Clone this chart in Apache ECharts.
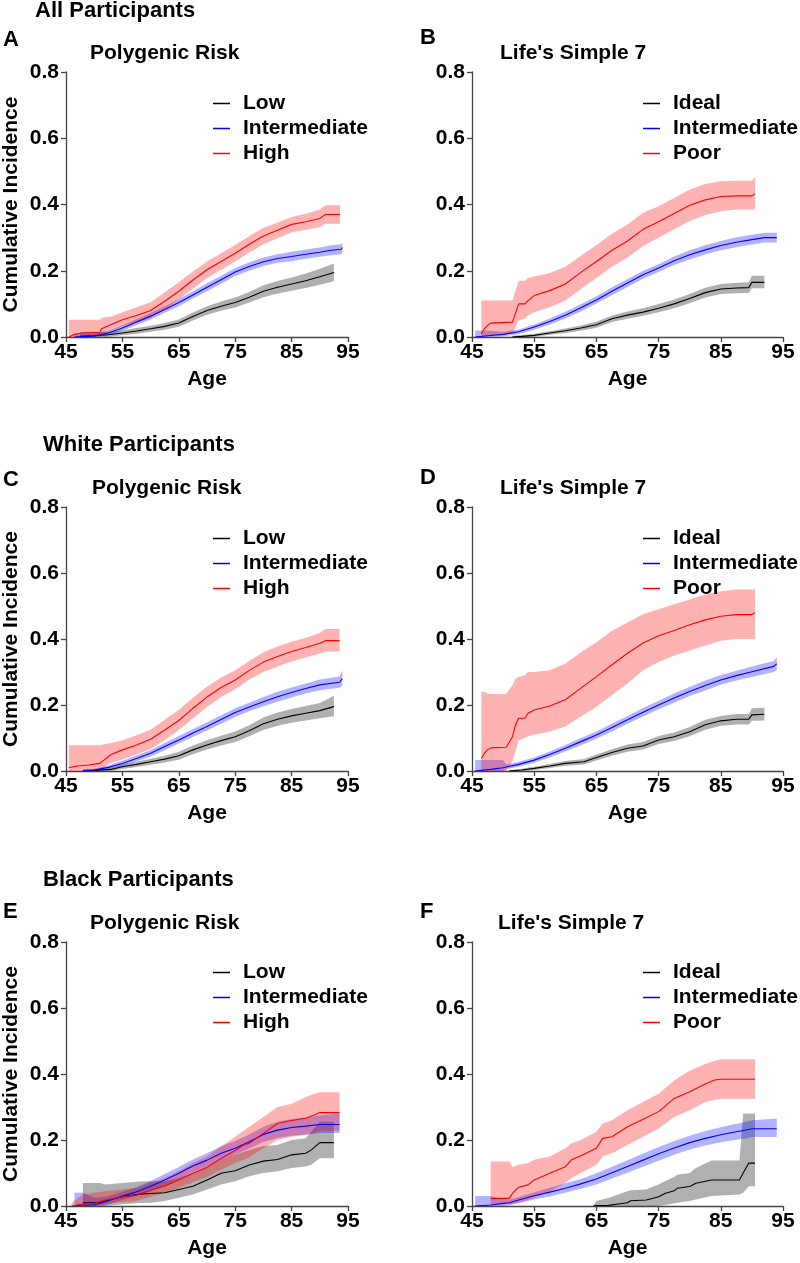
<!DOCTYPE html>
<html><head><meta charset="utf-8">
<script src="https://cdn.jsdelivr.net/npm/echarts@6/dist/echarts.min.js"></script>
<style>html,body{margin:0;padding:0;background:#fff}#c{width:800px;height:1263px}</style>
</head><body><div id="c"></div>
<script>
// ---------- axis ticks ----------
const xTicks = [45, 55, 65, 75, 85, 95];
const yTicks = [0.0, 0.2, 0.4, 0.6, 0.8];
const prsNames = ['Low', 'Intermediate', 'High'];
const ls7Names = ['Ideal', 'Intermediate', 'Poor'];

// ---------- Panel A: All participants, polygenic risk ----------
const A_low_age = [47.5,50,52.5,55,57.5,60,62.5,65,67.5,70,72.5,75,77.5,80,82.5,85,87.5,90,92.5];
const A_low_est = [0.002,0.004,0.007,0.012,0.018,0.025,0.032,0.042,0.062,0.08,0.093,0.104,0.12,0.138,0.15,0.16,0.17,0.182,0.195];
const A_low_lo  = [0,0,0.001,0.005,0.01,0.016,0.022,0.031,0.05,0.067,0.079,0.089,0.104,0.12,0.131,0.14,0.148,0.158,0.168];
const A_low_hi  = [0.015,0.015,0.016,0.02,0.027,0.034,0.042,0.053,0.074,0.093,0.107,0.119,0.136,0.156,0.169,0.18,0.192,0.206,0.222];

const A_int_age = [46.5,48,50,52.5,55,57.5,60,62.5,65,67.5,70,72.5,75,77.5,80,82.5,85,87.5,90,92,93.8,94];
const A_int_est = [0,0.001,0.003,0.012,0.027,0.045,0.063,0.083,0.104,0.127,0.15,0.173,0.196,0.213,0.227,0.237,0.243,0.25,0.256,0.262,0.265,0.27];
const A_int_lo  = [0,0,0,0.005,0.019,0.036,0.053,0.073,0.093,0.116,0.138,0.161,0.184,0.2,0.214,0.224,0.229,0.236,0.242,0.247,0.25,0.255];
const A_int_hi  = [0.008,0.008,0.01,0.019,0.035,0.054,0.073,0.093,0.115,0.138,0.162,0.185,0.208,0.226,0.24,0.25,0.257,0.264,0.27,0.277,0.28,0.285];

const A_high_age = [45.5,46.5,48,51,51.3,53,55,57.5,60,62.5,65,67.5,70,72.5,75,77.5,80,82.5,85,87.5,90,91,93.6];
const A_high_est = [0,0.008,0.012,0.014,0.025,0.038,0.052,0.065,0.08,0.108,0.138,0.172,0.203,0.228,0.253,0.28,0.305,0.322,0.34,0.348,0.358,0.37,0.37];
const A_high_lo  = [0,0,0,0.002,0.01,0.02,0.032,0.043,0.058,0.083,0.113,0.146,0.178,0.203,0.228,0.255,0.28,0.298,0.316,0.324,0.332,0.342,0.342];
const A_high_hi  = [0.052,0.052,0.052,0.052,0.058,0.062,0.075,0.09,0.105,0.135,0.165,0.198,0.228,0.253,0.278,0.305,0.33,0.345,0.362,0.372,0.385,0.398,0.398];

// ---------- Panel B: All participants, Life's Simple 7 ----------
const B_ideal_age = [51.5,53,55,57.5,60,62.5,65,67.5,70,72.5,75,77.5,80,82.5,85,87.5,89.5,90,92];
const B_ideal_est = [0,0.002,0.005,0.012,0.019,0.027,0.037,0.055,0.066,0.075,0.087,0.1,0.116,0.134,0.145,0.148,0.149,0.165,0.165];
const B_ideal_lo  = [0,0,0.001,0.007,0.012,0.019,0.028,0.045,0.055,0.064,0.075,0.087,0.102,0.119,0.13,0.132,0.133,0.147,0.147];
const B_ideal_hi  = [0.004,0.006,0.01,0.017,0.026,0.035,0.046,0.065,0.077,0.087,0.1,0.113,0.13,0.149,0.16,0.164,0.165,0.185,0.185];

const B_int_age = [45.5,47.5,50,52.5,55,57.5,60,62.5,65,67.5,70,72.5,75,77.5,80,82.5,85,87.5,90,92,94];
const B_int_est = [0,0.004,0.008,0.016,0.03,0.047,0.066,0.088,0.112,0.138,0.163,0.188,0.208,0.23,0.248,0.263,0.276,0.286,0.294,0.3,0.3];
const B_int_lo  = [0,0,0.002,0.009,0.022,0.038,0.056,0.077,0.101,0.126,0.151,0.176,0.196,0.217,0.234,0.249,0.262,0.271,0.279,0.285,0.285];
const B_int_hi  = [0.02,0.02,0.016,0.023,0.038,0.056,0.076,0.099,0.123,0.15,0.175,0.2,0.22,0.243,0.262,0.277,0.29,0.301,0.309,0.315,0.315];

const B_poor_age = [46.5,47,47.5,48,51.5,52.5,53.5,54,55,57.5,60,62.5,65,67.5,70,72.5,75,77.5,80,82.5,85,87.5,90,90.5];
const B_poor_est = [0.01,0.025,0.035,0.042,0.045,0.1,0.1,0.11,0.125,0.14,0.16,0.195,0.228,0.262,0.29,0.325,0.348,0.373,0.398,0.414,0.424,0.426,0.426,0.432];
const B_poor_lo  = [0,0,0.002,0.005,0.01,0.05,0.055,0.065,0.075,0.09,0.11,0.145,0.178,0.212,0.24,0.275,0.3,0.325,0.35,0.368,0.38,0.385,0.385,0.385];
const B_poor_hi  = [0.11,0.11,0.11,0.11,0.11,0.17,0.17,0.178,0.183,0.193,0.212,0.245,0.278,0.312,0.34,0.375,0.395,0.42,0.445,0.462,0.47,0.472,0.472,0.482];

// ---------- Panel C: White participants, polygenic risk ----------
const C_low_age = [48,50,53,55,57.5,60,62.5,65,67.5,70,72.5,75,77.5,80,82.5,85,87.5,90,92.5];
const C_low_est = [0.001,0.002,0.005,0.013,0.02,0.028,0.036,0.046,0.064,0.079,0.092,0.104,0.122,0.143,0.157,0.167,0.175,0.183,0.195];
const C_low_lo  = [0,0,0.001,0.006,0.012,0.019,0.026,0.034,0.051,0.065,0.077,0.088,0.105,0.124,0.137,0.146,0.153,0.16,0.166];
const C_low_hi  = [0.004,0.005,0.01,0.02,0.028,0.037,0.046,0.058,0.077,0.093,0.107,0.12,0.139,0.162,0.177,0.188,0.197,0.206,0.228];

const C_int_age = [48,50,52.5,55,57.5,60,62.5,65,67.5,70,72.5,75,77.5,80,82.5,85,87.5,90,93.5,94];
const C_int_est = [0.001,0.003,0.011,0.023,0.038,0.054,0.074,0.094,0.115,0.135,0.156,0.177,0.194,0.21,0.225,0.238,0.25,0.261,0.269,0.28];
const C_int_lo  = [0,0,0.005,0.015,0.029,0.044,0.063,0.083,0.103,0.123,0.143,0.164,0.181,0.196,0.21,0.223,0.235,0.245,0.252,0.258];
const C_int_hi  = [0.004,0.007,0.017,0.031,0.047,0.064,0.085,0.106,0.127,0.148,0.169,0.19,0.207,0.224,0.24,0.253,0.265,0.277,0.286,0.305];

const C_high_age = [45.5,47,49,51,53,55,57.5,60,62.5,65,67.5,70,72.5,75,77.5,80,82.5,85,87.5,90,91,93.5];
const C_high_est = [0.01,0.015,0.018,0.023,0.05,0.064,0.079,0.096,0.124,0.153,0.19,0.224,0.253,0.276,0.305,0.33,0.347,0.362,0.374,0.387,0.395,0.395];
const C_high_lo  = [0,0,0,0.003,0.025,0.035,0.05,0.067,0.094,0.124,0.16,0.194,0.224,0.248,0.277,0.3,0.317,0.332,0.344,0.356,0.362,0.362];
const C_high_hi  = [0.078,0.078,0.078,0.078,0.085,0.093,0.108,0.125,0.155,0.185,0.222,0.255,0.283,0.305,0.333,0.36,0.377,0.392,0.404,0.418,0.43,0.43];

// ---------- Panel D: White participants, Life's Simple 7 ----------
const D_ideal_age = [51,53,55,57.5,60,63,65,67.5,70,72.5,75,77.5,80,82.5,85,87.5,89.5,90,92];
const D_ideal_est = [0,0.003,0.008,0.015,0.023,0.028,0.041,0.056,0.069,0.076,0.094,0.104,0.119,0.14,0.152,0.157,0.157,0.17,0.172];
const D_ideal_lo  = [0,0,0.003,0.009,0.016,0.02,0.032,0.046,0.058,0.065,0.082,0.091,0.105,0.125,0.137,0.141,0.141,0.152,0.153];
const D_ideal_hi  = [0.003,0.007,0.013,0.021,0.03,0.036,0.05,0.066,0.08,0.088,0.106,0.117,0.133,0.155,0.167,0.173,0.173,0.19,0.192];

const D_int_age = [45.5,48,50,50.5,52.5,55,57.5,60,62.5,65,67.5,70,72.5,75,77.5,80,82.5,85,87.5,90,93.5,94];
const D_int_est = [0,0.005,0.01,0.012,0.02,0.033,0.05,0.069,0.089,0.109,0.132,0.155,0.178,0.2,0.221,0.241,0.259,0.276,0.289,0.301,0.317,0.325];
const D_int_lo  = [0,0,0,0.006,0.013,0.025,0.041,0.059,0.078,0.098,0.12,0.143,0.165,0.187,0.207,0.227,0.244,0.261,0.274,0.285,0.3,0.305];
const D_int_hi  = [0.033,0.033,0.033,0.02,0.028,0.041,0.059,0.079,0.1,0.12,0.144,0.167,0.191,0.213,0.235,0.255,0.274,0.291,0.304,0.317,0.333,0.345];

const D_poor_age = [46.5,47,47.5,48,50.5,51.5,52,52.5,53.5,54,55,57.5,60,62.5,65,67.5,70,72.5,75,77.5,80,82.5,85,87.5,90,90.5];
const D_poor_est = [0.038,0.054,0.064,0.07,0.072,0.104,0.14,0.16,0.16,0.175,0.185,0.197,0.216,0.251,0.286,0.322,0.357,0.388,0.41,0.426,0.443,0.458,0.469,0.474,0.474,0.48];
const D_poor_lo  = [0,0,0,0,0,0.03,0.06,0.094,0.1,0.105,0.11,0.12,0.135,0.165,0.195,0.23,0.265,0.305,0.33,0.35,0.365,0.38,0.395,0.4,0.4,0.4];
const D_poor_hi  = [0.24,0.24,0.235,0.233,0.233,0.26,0.28,0.285,0.29,0.3,0.3,0.305,0.325,0.36,0.39,0.425,0.45,0.475,0.49,0.505,0.52,0.535,0.545,0.55,0.55,0.55];

// ---------- Panel E: Black participants, polygenic risk ----------
const E_low_age = [48,51,52,55,58,60,62.5,65,67.5,70,72.5,75,77.5,80,82.5,85,87.5,88.5,90,92.5];
const E_low_est = [0.01,0.01,0.016,0.028,0.036,0.038,0.04,0.05,0.06,0.079,0.099,0.107,0.124,0.136,0.141,0.155,0.16,0.17,0.192,0.192];
const E_low_lo  = [0,0,0,0.005,0.009,0.01,0.015,0.025,0.035,0.05,0.065,0.075,0.09,0.1,0.105,0.115,0.12,0.125,0.145,0.145];
const E_low_hi  = [0.07,0.07,0.065,0.07,0.074,0.075,0.075,0.085,0.1,0.12,0.14,0.155,0.17,0.182,0.185,0.2,0.205,0.225,0.255,0.255];

const E_int_age = [46.5,48,50,52,55,57.5,60,62.5,65,67.5,70,72.5,75,77.5,80,82.5,85,87.5,90,93.5];
const E_int_est = [0,0.003,0.004,0.013,0.03,0.043,0.06,0.079,0.099,0.121,0.139,0.16,0.175,0.195,0.217,0.23,0.238,0.242,0.247,0.247];
const E_int_lo  = [0,0,0,0.003,0.018,0.03,0.045,0.062,0.081,0.102,0.12,0.14,0.155,0.174,0.194,0.206,0.213,0.217,0.221,0.221];
const E_int_hi  = [0.04,0.04,0.025,0.027,0.043,0.057,0.076,0.097,0.118,0.141,0.16,0.181,0.197,0.217,0.24,0.255,0.264,0.268,0.275,0.28];

const E_high_age = [46,48,50,52,55,57.5,60,62.5,65,67.5,70,72.5,75,76.5,77.5,80,82.5,85,87.5,89,90,93.5];
const E_high_est = [0,0.006,0.008,0.018,0.028,0.033,0.048,0.061,0.079,0.099,0.117,0.144,0.168,0.185,0.19,0.22,0.25,0.259,0.266,0.276,0.283,0.283];
const E_high_lo  = [0,0,0,0.005,0.012,0.015,0.028,0.04,0.055,0.072,0.088,0.11,0.13,0.14,0.148,0.175,0.2,0.21,0.215,0.22,0.228,0.228];
const E_high_hi  = [0.01,0.035,0.04,0.045,0.05,0.055,0.07,0.085,0.105,0.13,0.15,0.18,0.21,0.228,0.24,0.27,0.3,0.31,0.33,0.34,0.345,0.345];

// ---------- Panel F: Black participants, Life's Simple 7 ----------
const F_ideal_age = [64.5,65,67,68.5,70,70.5,73,74,75,76,77.5,78,80,81,83.5,88,88.6,89.5,90.5];
const F_ideal_est = [0,0.001,0.002,0.006,0.01,0.016,0.018,0.023,0.028,0.038,0.046,0.054,0.059,0.069,0.079,0.079,0.1,0.13,0.13];
const F_ideal_lo  = [0,0,0,0,0,0,0,0,0,0.003,0.008,0.01,0.015,0.02,0.03,0.035,0.04,0.06,0.06];
const F_ideal_hi  = [0,0.015,0.025,0.035,0.045,0.048,0.05,0.058,0.065,0.075,0.088,0.095,0.1,0.115,0.138,0.138,0.28,0.28,0.28];

const F_int_age = [45.5,48,50,51,52.5,55,57.5,60,62.5,65,67.5,70,72.5,75,77.5,80,82.5,85,87.5,89.5,90,94];
const F_int_est = [0,0.003,0.008,0.01,0.018,0.031,0.042,0.054,0.067,0.082,0.101,0.12,0.139,0.158,0.176,0.192,0.205,0.216,0.225,0.232,0.234,0.234];
const F_int_lo  = [0,0,0,0.002,0.009,0.02,0.029,0.04,0.052,0.065,0.083,0.101,0.119,0.137,0.155,0.171,0.183,0.193,0.201,0.207,0.209,0.209];
const F_int_hi  = [0.03,0.03,0.02,0.02,0.027,0.042,0.055,0.069,0.082,0.099,0.119,0.139,0.159,0.179,0.197,0.213,0.227,0.239,0.249,0.257,0.26,0.265];

const F_poor_age = [48,51,51.5,52.5,54,55,57.5,60,61,62.5,65,66,67.5,70,72.5,75,77.5,80,82.5,84,85,90.5];
const F_poor_est = [0.023,0.023,0.038,0.057,0.064,0.079,0.099,0.119,0.14,0.152,0.175,0.205,0.21,0.24,0.263,0.286,0.326,0.346,0.37,0.382,0.384,0.384];
const F_poor_lo  = [0.005,0.005,0.005,0.01,0.018,0.025,0.045,0.07,0.085,0.1,0.125,0.15,0.16,0.185,0.21,0.235,0.27,0.29,0.315,0.322,0.325,0.325];
const F_poor_hi  = [0.135,0.135,0.118,0.125,0.13,0.14,0.15,0.175,0.19,0.2,0.225,0.25,0.26,0.29,0.315,0.34,0.38,0.41,0.43,0.44,0.445,0.445];

// ---------- layout ----------
const FONT = '"Liberation Sans", Arial, sans-serif';
const lineColors = ['#000000', '#0000FF', '#FF0000'];
const bandColors = ['rgba(0,0,0,0.31)', 'rgba(0,0,255,0.3)', 'rgba(255,0,0,0.3)'];

const panels = [
  {grid:{left:63, top:72, width:285, height:265}, legend:{left:213, top:93}, names:prsNames, yName:true,
   groups:[[A_low_age,A_low_est,A_low_lo,A_low_hi],[A_int_age,A_int_est,A_int_lo,A_int_hi],[A_high_age,A_high_est,A_high_lo,A_high_hi]]},
  {grid:{left:472, top:72, width:311, height:265}, legend:{left:643, top:93}, names:ls7Names, yName:false,
   groups:[[B_ideal_age,B_ideal_est,B_ideal_lo,B_ideal_hi],[B_int_age,B_int_est,B_int_lo,B_int_hi],[B_poor_age,B_poor_est,B_poor_lo,B_poor_hi]]},
  {grid:{left:63, top:507, width:285, height:264}, legend:{left:213, top:528}, names:prsNames, yName:true,
   groups:[[C_low_age,C_low_est,C_low_lo,C_low_hi],[C_int_age,C_int_est,C_int_lo,C_int_hi],[C_high_age,C_high_est,C_high_lo,C_high_hi]]},
  {grid:{left:472, top:507, width:311, height:264}, legend:{left:643, top:528}, names:ls7Names, yName:false,
   groups:[[D_ideal_age,D_ideal_est,D_ideal_lo,D_ideal_hi],[D_int_age,D_int_est,D_int_lo,D_int_hi],[D_poor_age,D_poor_est,D_poor_lo,D_poor_hi]]},
  {grid:{left:63, top:942, width:285, height:264}, legend:{left:213, top:962}, names:prsNames, yName:true,
   groups:[[E_low_age,E_low_est,E_low_lo,E_low_hi],[E_int_age,E_int_est,E_int_lo,E_int_hi],[E_high_age,E_high_est,E_high_lo,E_high_hi]]},
  {grid:{left:472, top:942, width:311, height:264}, legend:{left:643, top:962}, names:ls7Names, yName:false,
   groups:[[F_ideal_age,F_ideal_est,F_ideal_lo,F_ideal_hi],[F_int_age,F_int_est,F_int_lo,F_int_hi],[F_poor_age,F_poor_est,F_poor_lo,F_poor_hi]]}
];

const labels = [
  {t:'All Participants', x:35, y:11, s:22}, {t:'A', x:3, y:40, s:22}, {t:'Polygenic Risk', x:90, y:53, s:21},
  {t:'B', x:420, y:38, s:22}, {t:"Life's Simple 7", x:500, y:53, s:21},
  {t:'White Participants', x:43, y:445, s:22}, {t:'C', x:3, y:480, s:22}, {t:'Polygenic Risk', x:92, y:488, s:21},
  {t:'D', x:420, y:478, s:22}, {t:"Life's Simple 7", x:500, y:488, s:21},
  {t:'Black Participants', x:43, y:880, s:22}, {t:'E', x:3, y:912, s:22}, {t:'Polygenic Risk', x:90, y:923, s:21},
  {t:'F', x:420, y:912, s:22}, {t:"Life's Simple 7", x:498, y:923, s:21}
];

const axisCol = '#444';
const txt = {fontFamily: FONT, fontWeight: 'bold', fontSize: 21, color: '#000'};
const option = {animation:false, backgroundColor:'#fff', grid:[], xAxis:[], yAxis:[], series:[], legend:[],
  graphic:{elements: labels.map(l => ({type:'text', x:l.x, y:l.y,
    style:{text:l.t, font:'bold ' + l.s + 'px ' + FONT, fill:'#000', verticalAlign:'middle', align:'left'}}))}};

// confidence band drawn as a polygon through the axis scales (api.coord)
function bandSeries(i, age, lo, hi, color) {
  return {type:'custom', xAxisIndex:i, yAxisIndex:i, silent:true, z:1,
    data:[[age[0], lo[0]]],
    renderItem: function (params, api) {
      const pts = [];
      for (let j = 0; j < age.length; j++) pts.push(api.coord([age[j], hi[j]]));
      for (let j = age.length - 1; j >= 0; j--) pts.push(api.coord([age[j], lo[j]]));
      return {type:'polygon', shape:{points:pts}, style:{fill:color}};
    }};
}

panels.forEach((p, i) => {
  option.grid.push(Object.assign({containLabel:false}, p.grid));
  option.xAxis.push({gridIndex:i, type:'value', min:xTicks[0], max:xTicks[xTicks.length-1], interval:10,
    axisLine:{show:true, onZero:false, lineStyle:{color:axisCol, width:1.3}},
    axisTick:{show:true, length:5, lineStyle:{color:axisCol, width:1.3}},
    axisLabel:Object.assign({margin:5}, txt), splitLine:{show:false},
    name:'Age', nameLocation:'middle', nameGap:32, nameTextStyle:txt});
  option.yAxis.push({gridIndex:i, type:'value', min:yTicks[0], max:yTicks[yTicks.length-1], interval:0.2,
    axisLine:{show:true, onZero:false, lineStyle:{color:axisCol, width:1.3}},
    axisTick:{show:true, length:5, lineStyle:{color:axisCol, width:1.3}},
    axisLabel:Object.assign({margin:7, formatter:v => v.toFixed(1)}, txt), splitLine:{show:false},
    name:p.yName ? 'Cumulative Incidence' : '', nameLocation:'middle', nameGap:44, nameTextStyle:txt});
  p.groups.forEach((g, k) => {
    const [age, est, lo, hi] = g;
    option.series.push(bandSeries(i, age, lo, hi, bandColors[k]));
  });
  p.groups.forEach((g, k) => {
    const [age, est] = g;
    option.series.push({type:'line', name:p.names[k], xAxisIndex:i, yAxisIndex:i, symbol:'none',
      color:lineColors[k], lineStyle:{color:lineColors[k], width:1.1}, itemStyle:{color:lineColors[k]},
      data:age.map((a, j) => [a, est[j]]), z:3});
  });
  option.legend.push({data:p.names, left:p.legend.left, top:p.legend.top, orient:'vertical', icon:'rect',
    itemWidth:17, itemHeight:1.5, itemGap:4, selectedMode:false, padding:0,
    textStyle:Object.assign({padding:[0,0,0,8], lineHeight:21}, txt)});
});

const chart = echarts.init(document.getElementById('c'), null, {renderer:'canvas'});
chart.setOption(option);
</script></body></html>
